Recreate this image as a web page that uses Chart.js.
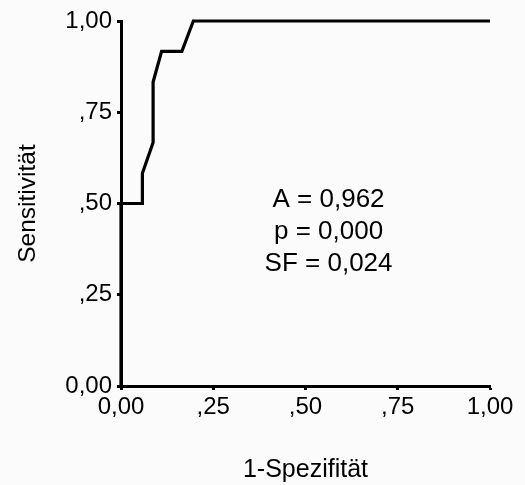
<!DOCTYPE html>
<html><head><meta charset="utf-8">
<script src="https://cdn.jsdelivr.net/npm/chart.js@4"></script>
<style>html,body{margin:0;padding:0;background:#fbfbfb;}#w{width:525px;height:485px;}</style>
</head><body><div id="w"><canvas id="c" width="525" height="485"></canvas></div>
<script>
const fpr = [0, 0, 0.058, 0.058, 0.087, 0.087, 0.110, 0.165, 0.196, 1.0];
const tpr = [0, 0.5, 0.5, 0.583, 0.667, 0.833, 0.917, 0.917, 1.0, 1.0];
const tickValues = [0, 0.25, 0.5, 0.75, 1];
const tickLabels = ["0,00", ",25", ",50", ",75", "1,00"];
const statsLines = ["A = 0,962", "p = 0,000", "SF = 0,024"];
const xTitle = "1-Spezifität";
const yTitle = "Sensitivität";

const FONT = "'Liberation Sans', Arial, sans-serif";
const pts = fpr.map((x, i) => ({x: x, y: tpr[i]}));

const statsPlugin = {
  id: 'stats',
  afterDraw(chart) {
    const {ctx, scales} = chart;
    ctx.save();
    ctx.fillStyle = '#000';
    ctx.font = "26px " + FONT;
    ctx.textAlign = 'center';
    ctx.textBaseline = 'alphabetic';
    const cx = scales.x.getPixelForValue(0.5625);
    const ys = [0.490, 0.403, 0.315];
    statsLines.forEach((t, i) => ctx.fillText(t, cx, scales.y.getPixelForValue(ys[i])));
    ctx.restore();
  }
};

const fmt = v => { const i = tickValues.findIndex(t => Math.abs(t - v) < 1e-6); return i >= 0 ? tickLabels[i] : ''; };

new Chart(document.getElementById('c'), {
  type: 'scatter',
  data: { datasets: [{ data: pts, showLine: true, clip: false, borderColor: '#000', borderWidth: 3.2, pointRadius: 0, tension: 0, fill: false, borderJoinStyle: 'miter' }] },
  options: {
    responsive: false, animation: false,
    layout: { padding: { left: 10, right: 35, top: 21, bottom: 0 } },
    plugins: { legend: { display: false }, tooltip: { enabled: false } },
    scales: {
      x: {
        type: 'linear', min: 0, max: 1,
        afterFit(s) { s.height = 99; },
        ticks: { stepSize: 0.25, color: '#000', font: { size: 24, family: FONT }, padding: 3, maxRotation: 0, callback: fmt },
        grid: { display: true, drawOnChartArea: false, tickLength: 4, tickWidth: 3, color: '#000' },
        border: { display: true, color: '#000', width: 3 },
        title: { display: true, text: xTitle, color: '#000', font: { size: 25, family: FONT }, padding: { top: 0, bottom: 0 } }
      },
      y: {
        type: 'linear', min: 0, max: 1,
        afterFit(s) { s.width = 111; },
        ticks: { stepSize: 0.25, color: '#000', font: { size: 24, family: FONT }, padding: 5, callback: fmt },
        grid: { display: true, drawOnChartArea: false, tickLength: 4, tickWidth: 3, color: '#000' },
        border: { display: true, color: '#000', width: 3 },
        title: { display: true, text: yTitle, color: '#000', font: { size: 24.5, family: FONT }, padding: { top: 4, bottom: 0 } }
      }
    }
  },
  plugins: [statsPlugin]
});
</script></body></html>
